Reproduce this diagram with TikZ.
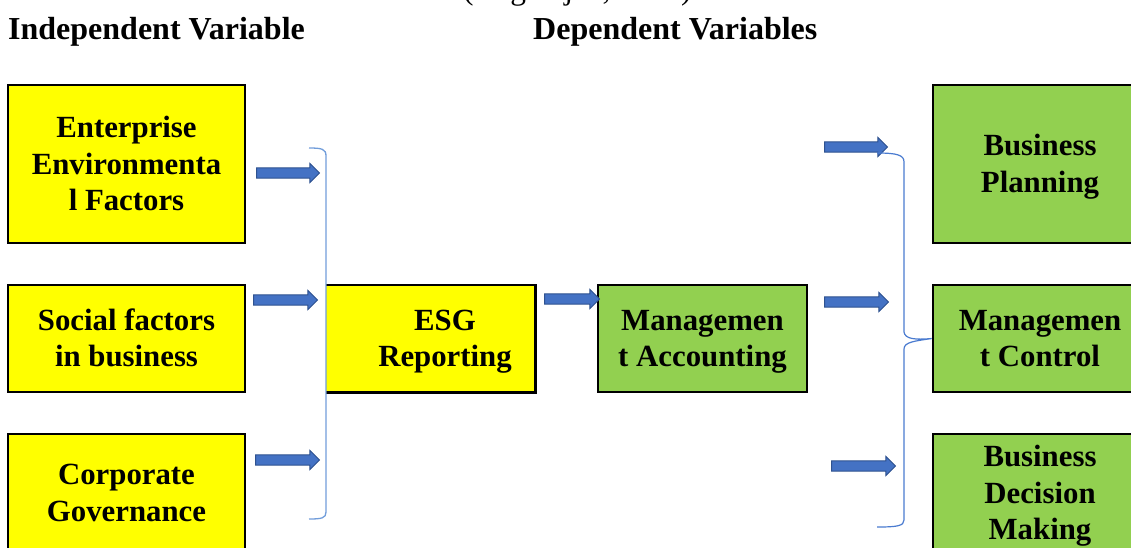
\documentclass[tikz,border=0pt]{standalone}
\usepackage{fontspec}
\setmainfont{Liberation Serif}
\usetikzlibrary{shapes.arrows}
\definecolor{ybox}{HTML}{FFFF00}
\definecolor{gbox}{HTML}{92D050}
\definecolor{arrowfill}{HTML}{4472C4}
\definecolor{arrowedge}{HTML}{2F528F}
\definecolor{brackl}{HTML}{719DDA}
\definecolor{brackr}{HTML}{4A7BD0}
\tikzset{
  boxtext/.style={font=\fontsize{30.8}{36.5}\selectfont\bfseries, align=center, text depth=0pt},
  twoline/.style={text height=56.9pt},
  threeline/.style={text height=93.4pt},
  basebox/.style={boxtext, draw=black, line width=2.6pt, inner sep=0pt},
  yellowbox/.style={basebox, fill=ybox},
  greenbox/.style={basebox, fill=gbox},
  header/.style={font=\fontsize{32}{36}\selectfont\bfseries, inner sep=0pt},
  blockarrow/.style={single arrow, draw=arrowedge, fill=arrowfill, line width=0.9pt,
    minimum height=#1, inner xsep=0pt, inner ysep=4.7pt, single arrow head extend=4.5pt},
  lbracket/.style={draw=brackl, line width=1.3pt},
  rbrace/.style={draw=brackr, line width=1.2pt},
}
\begin{document}
\begin{tikzpicture}[x=1pt,y=-1pt]
\useasboundingbox (0,0) rectangle (1131,547);
\clip (0,0) rectangle (1131,547);
% headings
\node[font=\fontsize{31.4}{36}\selectfont, inner sep=0pt, anchor=base west] (cite) at (463,-0.5) {(Nagarajan, 2021)};
\node[header, anchor=base west] (hind) at (8,39.5) {Independent Variable};
\node[header, anchor=base west] (hdep) at (533,39.5) {Dependent Variables};
% independent boxes
\node[yellowbox, threeline, minimum width=237pt, minimum height=158pt] (ent) at (126.5,164) {Enterprise\\Environmenta\\l Factors};
\node[yellowbox, twoline, minimum width=237pt, minimum height=107pt] (soc) at (126.5,338.5) {Social factors\\in business};
\node[yellowbox, twoline, minimum width=237pt, minimum height=118pt] (cor) at (126.5,493) {Corporate\\Governance};
% ESG box (no left border)
\node[fill=ybox, minimum width=209pt, minimum height=107pt, inner sep=0pt] (esg) at (430.5,338.5) {};
\draw[black, line width=2.6pt] (esg.north west) -- (esg.north east) -- (esg.south east) -- (esg.south west);
\node[boxtext, twoline, inner sep=0pt] (esgt) at (445,338.5) {ESG\\Reporting};
% management accounting
\node[greenbox, twoline, minimum width=209pt, minimum height=107pt] (ma) at (702.5,338.5) {Managemen\\t Accounting};
% dependent boxes
\node[greenbox, twoline, minimum width=214pt, minimum height=158pt] (bp) at (1040,164) {Business\\Planning};
\node[greenbox, twoline, minimum width=214pt, minimum height=107pt] (mc) at (1040,338.5) {Managemen\\t Control};
\node[greenbox, threeline, minimum width=214pt, minimum height=118pt] (bdm) at (1040,493) {Business\\Decision\\Making};
% block arrows
\node[blockarrow=63pt] (a1) at (285.5,173) {};
\node[blockarrow=64pt] (a2) at (283,300) {};
\node[blockarrow=64pt] (a3) at (285,460) {};
\node[blockarrow=55pt] (a4) at (569.5,299) {};
\node[blockarrow=63pt] (a5) at (853.5,147) {};
\node[blockarrow=64pt] (a6) at (854,302) {};
\node[blockarrow=64pt] (a7) at (861,466) {};
% left bracket
\coordinate (lbt) at (309,148);
\coordinate (lbb) at (309,519);
\path[lbracket] (lbt) .. controls (322,148) and (326,149) .. (326,156)
  -- (326,512) .. controls (326,518) and (322,519) .. (lbb);
% right brace
\coordinate (rbt) at (877,153);
\coordinate (rbb) at (877,527);
\coordinate (rbtip) at (mc.west);
\path[rbrace] (rbt) .. controls (897,153) and (904,155) .. (904,162)
  -- (904,332) .. controls (905,339) and (915,340) .. (rbtip)
  .. controls (915,341) and (904,342) .. (904,349)
  -- (904,520) .. controls (904,526) and (897,527) .. (rbb);
\end{tikzpicture}
\end{document}
